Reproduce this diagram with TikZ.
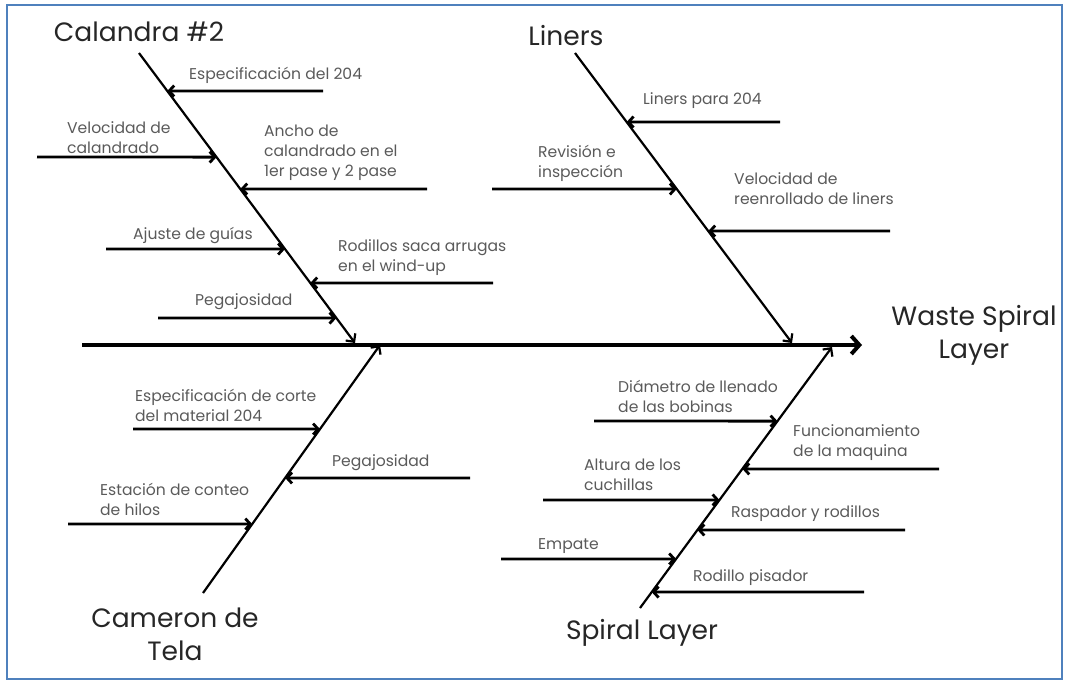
\documentclass[tikz,border=0pt]{standalone}
\usepackage{fontspec}
\setmainfont{Poppins}
\usetikzlibrary{arrows.meta,calc}
\definecolor{framebl}{RGB}{79,129,189}
\definecolor{txtgray}{RGB}{90,90,90}
\tikzset{
  bone/.style={line width=2.2pt, -{Straight Barb[length=6pt,width=12pt]}},
  cause/.style={line width=2.8pt, -{Straight Barb[length=5pt,width=11pt]}},
  spine/.style={line width=4pt, -{Straight Barb[length=8pt,width=18pt]}},
  causetext/.style={font=\fontsize{15.6}{20}\selectfont, text=txtgray, align=left, anchor=west, inner sep=0pt},
  bigtext/.style={font=\fontsize{26.5}{33}\selectfont, text=black!85, inner sep=0pt, align=center}
}
\begin{document}
\begin{tikzpicture}[x=1pt, y=-1pt]
	\useasboundingbox (0,0) rectangle (1065,681);
	% Frame
	\draw[framebl, line width=2.5pt] (7,5) rectangle (1062,679);
	% Spine and effect
	\coordinate (tail) at (82,345);
	\coordinate (head) at (862,345);
	\draw[spine] (tail) -- (head);
	\node[bigtext] (effect) at (974,335) {Waste Spiral\\Layer};
	% Bone ends
	\coordinate (calT) at (139,53);
	\coordinate (calH) at (355,343);
	\coordinate (linT) at (575,53);
	\coordinate (linH) at (792,343);
	\coordinate (camT) at (203,593);
	\coordinate (camH) at (380,345);
	\coordinate (spT) at (640,608);
	\coordinate (spH) at (832,347);
	% Bones
	\draw[bone] (calT) -- (calH) coordinate[pos=0.131] (k1) coordinate[pos=0.359] (k2)
		coordinate[pos=0.469] (k3) coordinate[pos=0.676] (k4) coordinate[pos=0.793] (k5)
		coordinate[pos=0.914] (k6);
	\draw[bone] (linT) -- (linH) coordinate[pos=0.238] (j1) coordinate[pos=0.469] (j2)
		coordinate[pos=0.614] (j3);
	\draw[bone] (camT) -- (camH) coordinate[pos=0.661] (m1) coordinate[pos=0.464] (m2)
		coordinate[pos=0.278] (m3);
	\draw[bone] (spT) -- (spH) coordinate[pos=0.716] (p1) coordinate[pos=0.533] (p2)
		coordinate[pos=0.414] (p3) coordinate[pos=0.299] (p4) coordinate[pos=0.188] (p5)
		coordinate[pos=0.061] (p6);
	% Category labels
	\node[bigtext] (calandra) at (139,32) {Calandra \#2};
	\node[bigtext] (liners) at (566,36) {Liners};
	\node[bigtext] (cameron) at (175,634) {Cameron de\\Tela};
	\node[bigtext] (spiral) at (642,633) {Spiral Layer};
	% Calandra #2 causes
	\coordinate (a1) at (323,91);
	\coordinate (a2) at (37,157);
	\coordinate (a3) at (427,189);
	\coordinate (a4) at (106,249);
	\coordinate (a5) at (493,283);
	\coordinate (a6) at (158,318);
	\draw[cause] (a1) -- (k1);
	\draw[cause] (a2) -- (k2);
	\draw[cause] (a3) -- (k3);
	\draw[cause] (a4) -- (k4);
	\draw[cause] (a5) -- (k5);
	\draw[cause] (a6) -- (k6);
	\node[causetext] (ca1) at (189,75) {Especificación del 204};
	\node[causetext] (ca2) at (67,138) {Velocidad de\\calandrado};
	\node[causetext] (ca3) at (264,153) {Ancho de\\calandrado en el\\1er pase y 2 pase};
	\node[causetext] (ca4) at (133,235) {Ajuste de guías};
	\node[causetext] (ca5) at (338,258) {Rodillos saca arrugas\\en el wind-up};
	\node[causetext] (ca6) at (195,302) {Pegajosidad};
	% Liners causes
	\coordinate (b1) at (780,122);
	\coordinate (b2) at (492,189);
	\coordinate (b3) at (890,231);
	\draw[cause] (b1) -- (j1);
	\draw[cause] (b2) -- (j2);
	\draw[cause] (b3) -- (j3);
	\node[causetext] (li1) at (643,101) {Liners para 204};
	\node[causetext] (li2) at (538,163) {Revisión e\\inspección};
	\node[causetext] (li3) at (734,189) {Velocidad de\\reenrollado de liners};
	% Cameron de Tela causes
	\coordinate (c1) at (133,429);
	\coordinate (c2) at (470,478);
	\coordinate (c3) at (68,524);
	\draw[cause] (c1) -- (m1);
	\draw[cause] (c2) -- (m2);
	\draw[cause] (c3) -- (m3);
	\node[causetext] (cm1) at (135,405) {Especificación de corte\\del material 204};
	\node[causetext] (cm2) at (332,463) {Pegajosidad};
	\node[causetext] (cm3) at (100,499) {Estación de conteo\\de hilos};
	% Spiral Layer causes
	\coordinate (d1) at (594,421);
	\coordinate (d2) at (939,469);
	\coordinate (d3) at (543,500);
	\coordinate (d4) at (905,530);
	\coordinate (d5) at (501,559);
	\coordinate (d6) at (864,592);
	\draw[cause] (d1) -- (p1);
	\draw[cause] (d2) -- (p2);
	\draw[cause] (d3) -- (p3);
	\draw[cause] (d4) -- (p4);
	\draw[cause] (d5) -- (p5);
	\draw[cause] (d6) -- (p6);
	\node[causetext] (sp1) at (618,396) {Diámetro de llenado\\de las bobinas};
	\node[causetext] (sp2) at (793,443) {Funcionamiento\\de la maquina};
	\node[causetext] (sp3) at (584,475) {Altura de los\\cuchillas};
	\node[causetext] (sp4) at (731,514) {Raspador y rodillos};
	\node[causetext] (sp5) at (538,546) {Empate};
	\node[causetext] (sp6) at (693,578) {Rodillo pisador};
\end{tikzpicture}
\end{document}
